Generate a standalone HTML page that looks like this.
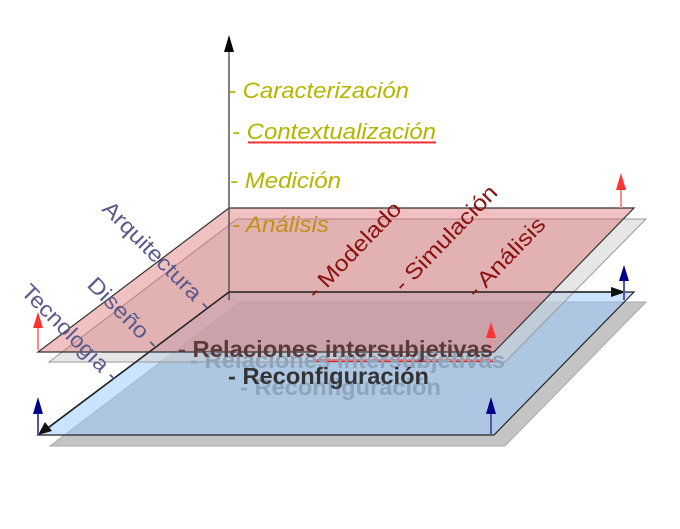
<!DOCTYPE html>
<html><head><meta charset="utf-8"><style>
html,body{margin:0;padding:0;background:#fff;width:680px;height:529px;overflow:hidden}
svg{display:block;font-family:"Liberation Sans",sans-serif}
</style></head><body>
<svg width="680" height="529" viewBox="0 0 680 529" xmlns="http://www.w3.org/2000/svg">
<defs>
<pattern id="wv" width="4" height="3" patternUnits="userSpaceOnUse"><path d="M0,2.5 L1,0.5 L2,2.5 L3,0.5 L4,2.5" fill="none" stroke="#e00" stroke-width="0.8"/></pattern>
</defs>
<polygon points="240,302 646,302 505,446 50,446" fill="#c4c4c4" stroke="#aaa" stroke-width="1"/>
<polygon points="229,292 634,292 494,435 38,435" fill="rgba(150,200,255,0.5)" stroke="#222" stroke-width="1.2"/>
<polygon points="237,219 646,219 505,362 49,362" fill="rgba(210,210,210,0.55)" stroke="#999" stroke-width="1"/>
<polygon points="229,208 634,208 494,352 38,352" fill="rgba(220,100,100,0.4)" stroke="#333" stroke-width="1.2"/>
<line x1="229" y1="300" x2="229" y2="38" stroke="#555" stroke-width="1.5"/>
<polygon points="224,52 234,52 229,35" fill="#000"/>
<line x1="229" y1="292" x2="622" y2="292" stroke="#222" stroke-width="1.5"/>
<polygon points="611,287 626,292 611,297" fill="#111"/>
<line x1="229" y1="292" x2="44" y2="431" stroke="#222" stroke-width="1.5"/>
<polygon points="38,435 45,422 52,431" fill="#111"/>
<g stroke-width="2">
<line x1="38" y1="350" x2="38" y2="320" stroke="#f88"/><polygon points="33,328 43,328 38,312" fill="#f33"/>
<line x1="621" y1="208" x2="621" y2="183" stroke="#f88"/><polygon points="616,190 626,190 621,173" fill="#f33"/>
<line x1="491" y1="352" x2="491" y2="332" stroke="#f88"/><polygon points="486,338 496,338 491,322" fill="#f33"/>
<line x1="624" y1="300" x2="624" y2="275" stroke="#55a"/><polygon points="619,281 629,281 624,265" fill="#008"/>
<line x1="38" y1="435" x2="38" y2="408" stroke="#55a"/><polygon points="33,414 43,414 38,397" fill="#008"/>
<line x1="491" y1="435" x2="491" y2="408" stroke="#55a"/><polygon points="486,414 496,414 491,397" fill="#008"/>
</g>
<rect x="248" y="141" width="188" height="3" fill="url(#wv)"/>
<rect x="315" y="359" width="178" height="3" fill="url(#wv)"/>
<g font-style="italic" font-size="22" fill="#b5b500">
<text x="228" y="98" textLength="181" lengthAdjust="spacingAndGlyphs">- Caracterización</text>
<text x="232" y="139" textLength="204" lengthAdjust="spacingAndGlyphs">- Contextualización</text>
<text x="230" y="188" textLength="111" lengthAdjust="spacingAndGlyphs">- Medición</text>
<text x="232" y="232" fill="#c0901a" textLength="97" lengthAdjust="spacingAndGlyphs">- Análisis</text>
</g>
<g font-size="22" fill="#5a5a8c">
<text transform="translate(101,210) rotate(45)" textLength="145" lengthAdjust="spacingAndGlyphs">Arquitectura -</text>
<text transform="translate(86,286) rotate(45)" textLength="92" lengthAdjust="spacingAndGlyphs">Diseño -</text>
<text transform="translate(20,293) rotate(45)" textLength="128" lengthAdjust="spacingAndGlyphs">Tecnología -</text>
</g>
<g font-size="22" fill="#8b1010">
<text transform="translate(316,300) rotate(-46)" textLength="125" lengthAdjust="spacingAndGlyphs">- Modelado</text>
<text transform="translate(403,293) rotate(-46)" textLength="138" lengthAdjust="spacingAndGlyphs">- Simulación</text>
<text transform="translate(476,299) rotate(-46)" textLength="102" lengthAdjust="spacingAndGlyphs">- Análisis</text>
</g>
<g font-weight="bold" font-size="23">
<text x="190" y="368" fill="#8ea4bb" textLength="315" lengthAdjust="spacingAndGlyphs">- Relaciones intersubjetivas</text>
<text x="240" y="395" fill="#8ea4bb" textLength="201" lengthAdjust="spacingAndGlyphs">- Reconfiguración</text>
<text x="178" y="357" fill="#5a3a3a" textLength="315" lengthAdjust="spacingAndGlyphs">- Relaciones intersubjetivas</text>
<text x="228" y="384" fill="#333" textLength="201" lengthAdjust="spacingAndGlyphs">- Reconfiguración</text>
</g>
</svg>
</body></html>
